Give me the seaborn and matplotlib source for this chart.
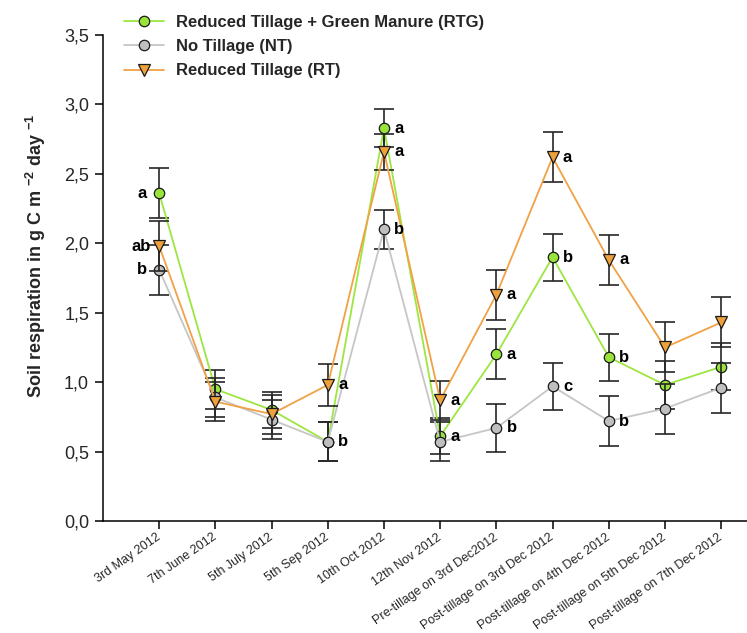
import matplotlib
matplotlib.use("Agg")
import matplotlib.pyplot as plt
from matplotlib.lines import Line2D
import seaborn as sns
import pandas as pd

# Sampling dates
dates = ["3rd May 2012", "7th June 2012", "5th July 2012", "5th Sep 2012",
         "10th Oct 2012", "12th Nov 2012", "Pre-tillage on 3rd Dec2012",
         "Post-tillage on 3rd Dec 2012", "Post-tillage on 4th Dec 2012",
         "Post-tillage on 5th Dec 2012", "Post-tillage on 7th Dec 2012"]

# Soil respiration (g C m-2 day-1), means and standard errors
rtg = [2.36, 0.95, 0.80, 0.57, 2.83, 0.61, 1.20, 1.90, 1.18, 0.98, 1.11]
rtg_se = [0.18, 0.14, 0.13, 0.14, 0.14, 0.13, 0.18, 0.17, 0.17, 0.17, 0.17]
nt = [1.81, 0.89, 0.73, 0.57, 2.10, 0.57, 0.67, 0.97, 0.72, 0.81, 0.96]
nt_se = [0.18, 0.14, 0.14, 0.14, 0.14, 0.14, 0.17, 0.17, 0.18, 0.18, 0.18]
rt = [1.98, 0.86, 0.77, 0.98, 2.66, 0.87, 1.63, 2.62, 1.88, 1.25, 1.43]
rt_se = [0.18, 0.14, 0.14, 0.15, 0.13, 0.14, 0.18, 0.18, 0.18, 0.18, 0.18]

# Significance letters per date
sig_rtg = ["a", "", "", "", "a", "a", "a", "b", "b", "", ""]
sig_nt = ["b", "", "", "b", "b", "", "b", "c", "b", "", ""]
sig_rt = ["ab", "", "", "a", "a", "a", "a", "a", "a", "", ""]

series_names = ["Reduced Tillage + Green Manure (RTG)", "No Tillage (NT)",
                "Reduced Tillage (RT)"]

y_ticks = [0.0, 0.5, 1.0, 1.5, 2.0, 2.5, 3.0, 3.5]
y_tick_labels = ["0,0", "0,5", "1,0", "1,5", "2,0", "2,5", "3,0", "3,5"]

sns.set_style("ticks")
plt.rcParams["font.family"] = ["Liberation Sans", "DejaVu Sans"]
plt.rcParams["mathtext.fontset"] = "custom"
plt.rcParams["mathtext.rm"] = "Liberation Sans:bold"
plt.rcParams["mathtext.bf"] = "Liberation Sans:bold"
plt.rcParams["mathtext.default"] = "bf"

fig = plt.figure(figsize=(7.47, 6.33), dpi=100)
ax = fig.add_axes([103 / 747, (633 - 521) / 633, (747 - 103) / 747, (521 - 35) / 633])

styles = {
    series_names[0]: dict(values=rtg, se=rtg_se, sig=sig_rtg, marker="o",
                          line="#9de641", face="#99e43a"),
    series_names[1]: dict(values=nt, se=nt_se, sig=sig_nt, marker="o",
                          line="#c6c6c6", face="#bfbfbf"),
    series_names[2]: dict(values=rt, se=rt_se, sig=sig_rt, marker="v",
                          line="#f0a244", face="#eea03a"),
}

x_pos = list(range(len(dates)))
handles = {}
z = 2
for name in [series_names[0], series_names[1], series_names[2]]:
    st = styles[name]
    df = pd.DataFrame({"x": x_pos, "y": st["values"]})
    ax.errorbar(df["x"], df["y"], yerr=st["se"], fmt="none", ecolor="#262626",
                elinewidth=1.2, capsize=7.5, capthick=1.2, zorder=z)
    msize = 7.5 if st["marker"] == "o" else 8.5
    sns.lineplot(data=df, x="x", y="y", ax=ax, color=st["line"], linewidth=1.3,
                 marker=st["marker"], markersize=msize,
                 markerfacecolor=st["face"], markeredgecolor="#1a1a1a",
                 markeredgewidth=0.9, zorder=z + 1, legend=False)
    handles[name] = Line2D([], [], color=st["line"], linewidth=1.3,
                           marker=st["marker"], markersize=msize,
                           markerfacecolor=st["face"], markeredgecolor="#1a1a1a",
                           markeredgewidth=0.9)
    # significance letters
    for i, (v, s) in enumerate(zip(st["values"], st["sig"])):
        if not s:
            continue
        if i == 0:
            dx, ha = (-6 if s == "ab" else -9), "right"
        else:
            dx, ha = 7.5, "left"
        ax.annotate(s, (i, v), xytext=(dx, 0), textcoords="offset points",
                    ha=ha, va="center", fontsize=12, fontweight="bold",
                    color="black", zorder=10)
    z += 3

ax.set_xlim(-1, 10.46)
ax.set_ylim(0, 3.5)
ax.set_yticks(y_ticks)
ax.set_yticklabels(y_tick_labels, fontsize=13)
ax.set_xticks(x_pos)
ax.set_xticklabels(dates, rotation=35, ha="right", va="center",
                   rotation_mode="anchor", fontsize=9)
ax.tick_params(axis="x", length=6, width=1.1, pad=5, color="black")
ax.tick_params(axis="y", length=6, width=1.1, pad=4, color="black")
ax.set_xlabel("")
ax.set_ylabel("Soil respiration in g C m $^{-2}$ day $^{-1}$", fontsize=13,
              fontweight="bold")
ax.yaxis.set_label_coords(-0.086, 0.545)
for side in ["top", "right"]:
    ax.spines[side].set_visible(False)
for side in ["left", "bottom"]:
    ax.spines[side].set_linewidth(1.1)
    ax.spines[side].set_color("black")

fig.legend([handles[n] for n in series_names], series_names,
           loc="upper left", bbox_to_anchor=(124 / 747, 1 - 15 / 633),
           frameon=False, handlelength=2.4, handletextpad=0.75,
           labelspacing=0.55, borderpad=0, borderaxespad=0,
           prop={"weight": "bold", "size": 12})

fig.savefig("out.png", dpi=100)
